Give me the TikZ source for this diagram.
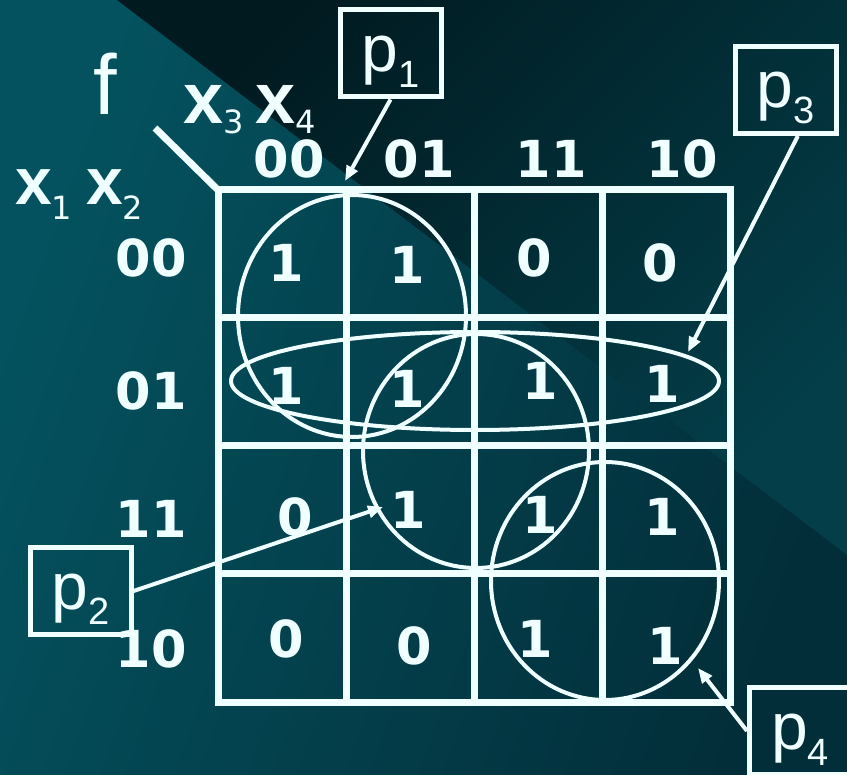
\documentclass[tikz,border=0pt]{standalone}
\usepackage{fontspec}
\setmainfont{Liberation Sans}
\newfontfamily\kmfont{DejaVu Sans}
\usetikzlibrary{arrows.meta}
\definecolor{KmTeal}{HTML}{04525F}
\definecolor{KmTealDeep}{HTML}{022E39}
\definecolor{KmNight}{HTML}{011A20}
\definecolor{KmNightLow}{HTML}{033E49}
\definecolor{KmChalk}{HTML}{F0FFFF}
% variable with a thin subscript
\newcommand{\kmvar}[3]{{\bfseries\fontsize{#1}{#1}\selectfont x}\raisebox{#2}{\kmfont\fontsize{32}{32}\selectfont #3}}
\newcommand{\kmp}[1]{{\fontsize{66}{66}\selectfont p}\raisebox{-16pt}{\fontsize{38}{38}\selectfont #1}}

\begin{document}
\begin{tikzpicture}[x=1pt,y=-1pt,
    gridline/.style={draw=KmChalk,line width=7pt},
    groupring/.style={draw=KmChalk,line width=4pt},
    arr/.style={-{Triangle[length=15pt,width=12pt]},line width=4pt,KmChalk},
    pbox/.style={draw=KmChalk,line width=5pt,minimum width=101pt,minimum height=87pt,inner sep=0pt,text height=52pt,text depth=16pt,text=KmChalk},
    val/.style={anchor=base,inner sep=0pt,text=KmChalk,font={\kmfont\bfseries\fontsize{51}{51}\selectfont}},
    lbl/.style={anchor=base west,inner sep=0pt,text=KmChalk}
  ]
    \useasboundingbox (0,0) rectangle (847,775);
    \clip (0,0) rectangle (847,775);
    % background
    \shade[top color=KmTeal,bottom color=KmTealDeep,shading angle=70] (0,0) rectangle (847,775);
    \shade[top color=KmNight,bottom color=KmNightLow,shading angle=45] (117,0) -- (847,0) -- (847,555) -- cycle;

    % the map
    \coordinate (fstub) at (155,128);
    \coordinate (gridNW) at (218,190);
    \draw[gridline] (fstub) -- (gridNW);
    \draw[gridline] (gridNW) rectangle (730,702);
    \foreach \i in {1,2,3} {
      \draw[gridline] (218+128*\i,190) -- (218+128*\i,702);
      \draw[gridline] (218,190+128*\i) -- (730,190+128*\i);
    }

    \node[lbl,font=\fontsize{85}{85}\selectfont] (fname) at (93,115) {f};
    \node[lbl] (xrow) at (15,205) {\kmvar{66}{-15pt}{1}\hspace{14pt}\kmvar{66}{-15pt}{2}};
    \node[lbl] (xcol) at (183,124) {\kmvar{72}{-10pt}{3}\hspace{12pt}\kmvar{72}{-10pt}{4}};

    \foreach \cx/\t [count=\k] in {289/00,419/01,551/11,682/10}
      \node[val] (col\k) at (\cx,178) {\t};
    \foreach \cy/\t [count=\k] in {277/00,410/01,538/11,667/10}
      \node[val] (row\k) at (151,\cy) {\t};
    \foreach \cx/\cy/\v [count=\k] in {286/282/1,407/284/1,534/277/0,660/282/0,
        286/405/1,407/408/1,540/400/1,662/403/1,
        295/536/0,408/529/1,540/534/1,662/536/1,
        286/657/0,414/665/0,535/657/1,665/665/1}
      \node[val] (cell\k) at (\cx,\cy) {\v};

    % prime implicants
    \draw[groupring] (352,316) ellipse [x radius=114,y radius=121];
    \draw[groupring] (476,451) ellipse [x radius=113,y radius=117];
    \draw[groupring] (475,381) ellipse [x radius=244,y radius=49];
    \draw[groupring] (605,581) ellipse [x radius=114,y radius=119];

    \node[pbox] (p1) at (390.5,53.5) {\kmp{1}};
    \node[pbox] (p2) at (80.5,591) {\kmp{2}};
    \node[pbox] (p3) at (785.5,90) {\kmp{3}};
    \node[pbox] (p4) at (800,731) {\kmp{4}};

    \coordinate (t1) at (345,181);
    \coordinate (t2) at (383,507);
    \coordinate (t3) at (688,352);
    \coordinate (t4) at (698,668);
    \draw[arr] (p1.south) -- (t1);
    \draw[arr] (p2.east) -- (t2);
    \draw[arr] (p3.-75) -- (t3);
    \draw[arr] (p4.west) -- (t4);
  \end{tikzpicture}
\end{document}
